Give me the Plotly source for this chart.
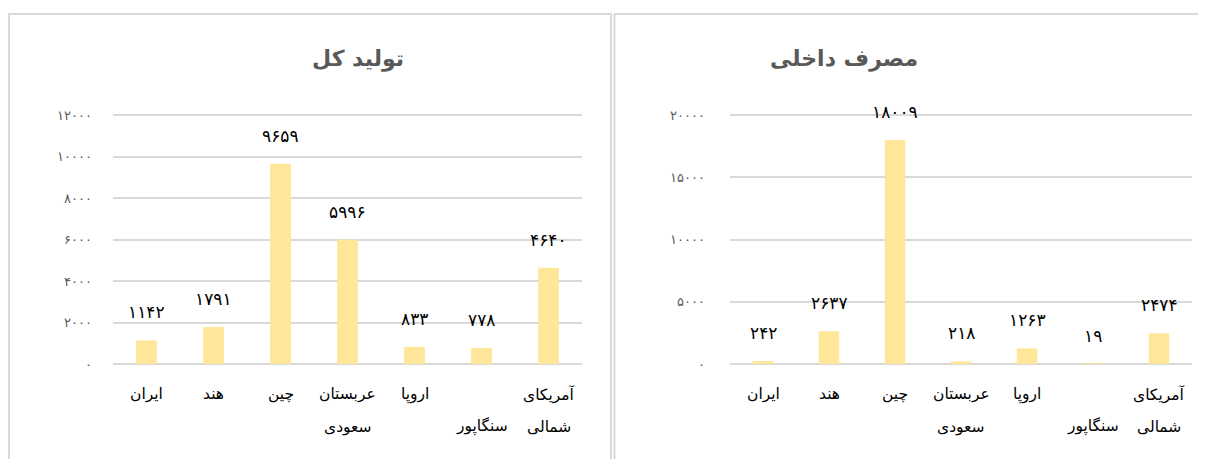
import plotly.graph_objects as go

# ---- data ----
categories = ["ایران", "هند", "چین", "عربستان سعودی", "اروپا", "سنگاپور", "آمریکای شمالی"]
cat_line1 = ["ایران", "هند", "چین", "عربستان", "اروپا", "", "آمریکای"]
cat_line2 = ["", "", "", "سعودی", "", "سنگاپور", "شمالی"]
production = [1142, 1791, 9659, 5996, 833, 778, 4640]
consumption = [242, 2637, 18009, 218, 1263, 19, 2474]
prod_ticks = [0, 2000, 4000, 6000, 8000, 10000, 12000]
cons_ticks = [0, 5000, 10000, 15000, 20000]
title_prod = "تولید کل"
title_cons = "مصرف داخلی"

W, H = 1206, 459
OFF = 8  # page offset of the figure (body margin)
FA = str.maketrans("0123456789", "۰۱۲۳۴۵۶۷۸۹")


def fa(n):
    return str(n).translate(FA)


def px(x):
    return (x - OFF) / W


def py(y):
    return 1 - (y - OFF) / H


BAR = "#FFE699"
GRID = "#D9D9D9"
FONT = "DejaVu Sans"

fig = go.Figure()
fig.add_trace(go.Bar(x=categories, y=production, marker=dict(color=BAR, line=dict(width=0)),
                     xaxis="x", yaxis="y", hoverinfo="skip"))
fig.add_trace(go.Bar(x=categories, y=consumption, marker=dict(color=BAR, line=dict(width=0)),
                     xaxis="x2", yaxis="y2", hoverinfo="skip"))

# zero line at page y=370, top tick at page y=115.5; range extended 2% so top gridline is drawn
Y0, YTOP, EXT = 370, 115.5, 1.02
ydom = [py(Y0), py(Y0 - (Y0 - YTOP) * EXT)]
axis_common = dict(showgrid=True, gridcolor=GRID, gridwidth=1.6, zeroline=True,
                   zerolinecolor=GRID, zerolinewidth=1.6, showline=False, fixedrange=True,
                   tickfont=dict(family=FONT, size=13, color="#595959"), ticks="")

fig.update_layout(
    width=W, height=H, margin=dict(l=0, r=0, t=0, b=0),
    paper_bgcolor="white", plot_bgcolor="white", showlegend=False, bargap=0.69,
    font=dict(family=FONT),
    xaxis=dict(domain=[px(113), px(582)], anchor="y", showticklabels=False, showgrid=False,
               showline=False, zeroline=False, categoryorder="array", categoryarray=categories,
               fixedrange=True),
    xaxis2=dict(domain=[px(730), px(1192)], anchor="y2", showticklabels=False, showgrid=False,
                showline=False, zeroline=False, categoryorder="array", categoryarray=categories,
                fixedrange=True),
    yaxis=dict(domain=ydom, anchor="x", range=[0, prod_ticks[-1] * EXT], tickvals=prod_ticks,
               ticktext=[fa(v) for v in prod_ticks], ticklabelstandoff=20, **axis_common),
    yaxis2=dict(domain=ydom, anchor="x2", range=[0, cons_ticks[-1] * EXT], tickvals=cons_ticks,
                ticktext=[fa(v) for v in cons_ticks], ticklabelstandoff=24, **axis_common),
)

ann = []
for xr, yr, vals in (("x", "y", production), ("x2", "y2", consumption)):
    # data labels
    for c, v in zip(categories, vals):
        ann.append(dict(x=c, y=v, xref=xr, yref=yr, text=fa(v), showarrow=False,
                        yanchor="middle", yshift=28,
                        font=dict(family=FONT, size=17, color="#000000")))
    # category labels (two lines)
    for c, l1, l2 in zip(categories, cat_line1, cat_line2):
        if l1:
            ann.append(dict(x=c, y=py(401), xref=xr, yref="paper", text=l1, showarrow=False,
                            yanchor="middle", font=dict(family=FONT, size=15.5, color="#000000")))
        if l2:
            ann.append(dict(x=c, y=py(434), xref=xr, yref="paper", text=l2, showarrow=False,
                            yanchor="middle", font=dict(family=FONT, size=15.5, color="#000000")))

# titles
ann.append(dict(x=px(310), y=py(58), xref="paper", yref="paper", text="<b>" + title_prod + "</b>",
                showarrow=False, yanchor="middle", font=dict(family=FONT, size=22, color="#595959")))
ann.append(dict(x=px(920), y=py(58), xref="paper", yref="paper", text="<b>" + title_cons + "</b>",
                showarrow=False, yanchor="middle", font=dict(family=FONT, size=22, color="#595959")))
fig.update_layout(annotations=ann)

# panel borders
bl = dict(color=GRID, width=2)
shapes = [
    dict(type="rect", xref="paper", yref="paper", x0=px(9), x1=px(611), y0=py(480),
         y1=py(12), line=bl, fillcolor="rgba(0,0,0,0)"),
    dict(type="rect", xref="paper", yref="paper", x0=px(614.5), x1=px(1230), y0=py(480),
         y1=py(12), line=bl, fillcolor="rgba(0,0,0,0)"),
]
fig.update_layout(shapes=shapes)

fig.write_html("out.html")
